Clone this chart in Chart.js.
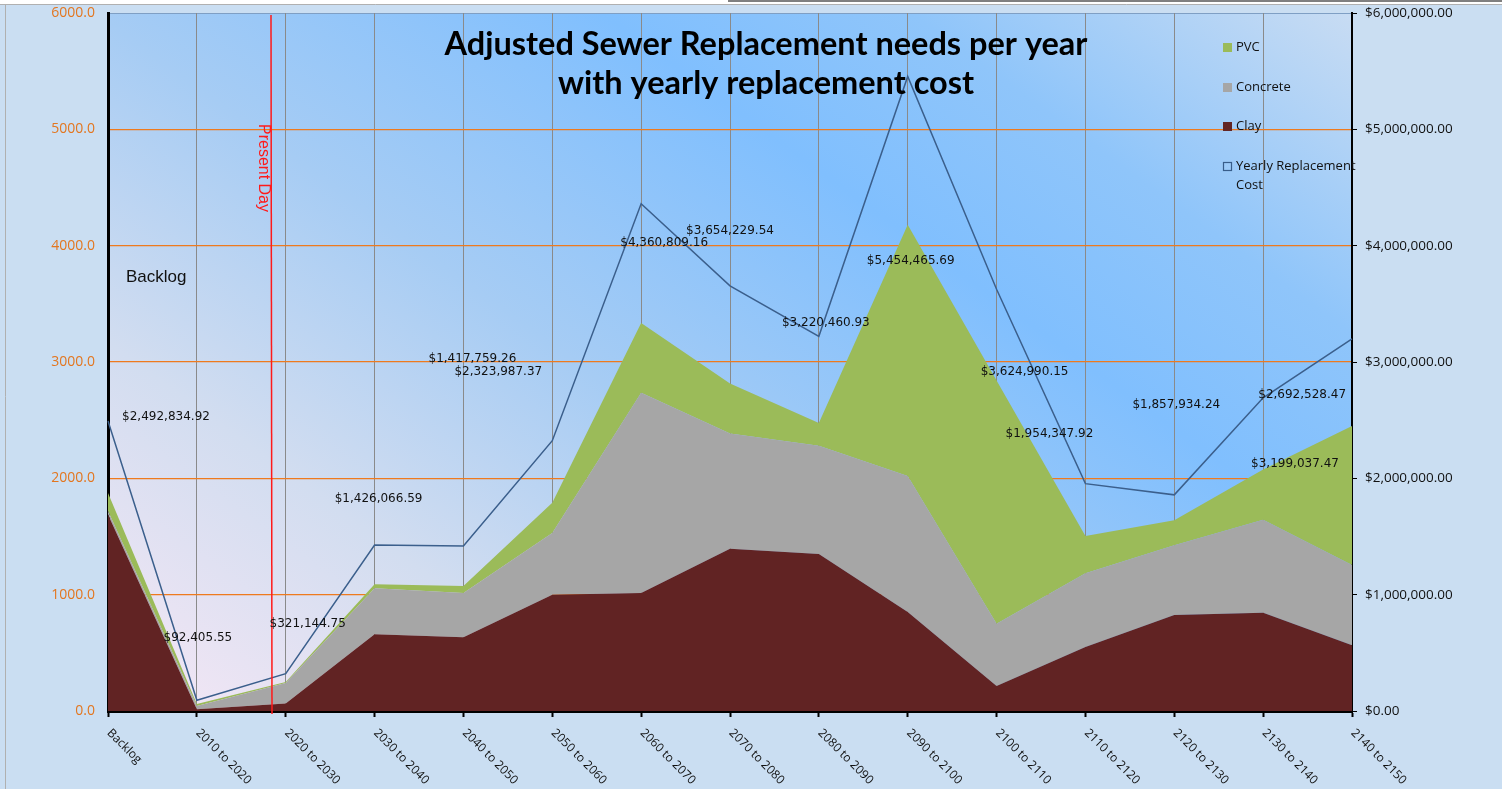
<!DOCTYPE html>
<html lang="en">
<head>
  <meta charset="UTF-8">
  <title>Adjusted Sewer Replacement needs per year</title>
  <script src="https://cdn.jsdelivr.net/npm/chart.js@4.4.1/dist/chart.umd.min.js"></script>
  <style>
    html, body { margin: 0; padding: 0; background: #cadef2; }
    #wrap { width: 1502px; height: 789px; position: relative; }
  </style>
</head>
<body>
  <div id="wrap"><canvas id="sewerChart"></canvas></div>

  <script>
    const categories = ['Backlog', '2010 to 2020', '2020 to 2030', '2030 to 2040', '2040 to 2050',
      '2050 to 2060', '2060 to 2070', '2070 to 2080', '2080 to 2090', '2090 to 2100',
      '2100 to 2110', '2110 to 2120', '2120 to 2130', '2130 to 2140', '2140 to 2150'];
    const clay     = [1690, 15, 65, 660, 635, 1000, 1015, 1395, 1350, 850, 215, 550, 825, 845, 565];
    const concrete = [30, 28, 175, 395, 380, 530, 1720, 990, 930, 1170, 535, 635, 600, 800, 690];
    const pvc      = [155, 17, 10, 35, 60, 260, 600, 430, 195, 2160, 2090, 320, 215, 430, 1195];
    const yearlyCost = [2492834.92, 92405.55, 321144.75, 1426066.59, 1417759.26, 2323987.37,
      4360809.16, 3654229.54, 3220460.93, 5454465.69, 3624990.15, 1954347.92, 1857934.24,
      2692528.47, 3199037.47];
    const leftTicks = [0, 1000, 2000, 3000, 4000, 5000, 6000];

    // where each cost label sits relative to its point (as placed in the original sheet)
    const labelOffsets = [[58, -4], [1, -62], [22, -50], [4, -46], [9, -187], [-54, -69], [23, 39],
      [0, -55], [7, -13], [3, 184], [28, 83], [-36, -50], [2, -90], [39, -3], [-57, 125]];

    const money = v => '$' + v.toLocaleString('en-US', { minimumFractionDigits: 2, maximumFractionDigits: 2 });

    const decorPlugin = {
      id: 'decor',
      beforeDraw(chart) {
        const { ctx, chartArea: a } = chart;
        ctx.save();
        ctx.fillStyle = '#ffffff';
        ctx.fillRect(0, 0, chart.width, 4);
        ctx.strokeStyle = '#b0b0b0';
        ctx.lineWidth = 1;
        ctx.beginPath(); ctx.moveTo(0, 4.5); ctx.lineTo(chart.width, 4.5); ctx.stroke();
        ctx.beginPath(); ctx.moveTo(5.5, 4); ctx.lineTo(5.5, chart.height); ctx.stroke();
        ctx.strokeStyle = '#000';
        ctx.beginPath(); ctx.moveTo(728, 1); ctx.lineTo(chart.width, 1); ctx.stroke();
        // plot fill: pink bottom-left, deep blue band, lighter again top-right
        const g = ctx.createLinearGradient(a.left, a.bottom, a.left + 762, a.bottom - 1048);
        g.addColorStop(0, '#f6e7f5');
        g.addColorStop(0.23, '#d2ddf0');
        g.addColorStop(0.43, '#a6ccf4');
        g.addColorStop(0.66, '#80bffe');
        g.addColorStop(0.8, '#8fc5fa');
        g.addColorStop(1, '#c8dcf3');
        ctx.fillStyle = g;
        ctx.fillRect(a.left, a.top, a.right - a.left, a.bottom - a.top);
        ctx.strokeStyle = '#7f9fc4';
        ctx.beginPath(); ctx.moveTo(a.left, a.top + 0.5); ctx.lineTo(a.right, a.top + 0.5); ctx.stroke();
        ctx.restore();
      },
      afterDatasetsDraw(chart) {
        const { ctx, chartArea: a } = chart;
        const xs = chart.scales.x, y1 = chart.scales.y1;
        ctx.save();

        // present day marker
        ctx.strokeStyle = '#ff1a1a';
        ctx.lineWidth = 1.5;
        ctx.beginPath(); ctx.moveTo(271, a.top + 2); ctx.lineTo(272, a.bottom + 3); ctx.stroke();
        ctx.save();
        ctx.translate(263, 168);
        ctx.rotate(Math.PI / 2);
        ctx.fillStyle = '#ff1a1a';
        ctx.font = '16px "Liberation Sans", Arial, sans-serif';
        ctx.textAlign = 'center';
        ctx.textBaseline = 'middle';
        ctx.fillText('Present Day', 0, 0);
        ctx.restore();

        ctx.fillStyle = '#111';
        ctx.font = '17px "Liberation Sans", Arial, sans-serif';
        ctx.textAlign = 'left';
        ctx.textBaseline = 'middle';
        ctx.fillText('Backlog', 126, 277);

        // cost labels
        ctx.font = '12px "DejaVu Sans", sans-serif';
        ctx.textAlign = 'center';
        ctx.fillStyle = '#111';
        yearlyCost.forEach((v, i) => {
          const px = xs.getPixelForValue(i), py = y1.getPixelForValue(v);
          ctx.fillText(money(v), px + labelOffsets[i][0], py + labelOffsets[i][1]);
        });

        // title
        ctx.font = 'bold 32.5px Lato, "Open Sans", sans-serif';
        ctx.fillStyle = '#000';
        ctx.fillText('Adjusted Sewer Replacement needs per year', 766, 45);
        ctx.fillText('with yearly replacement cost', 766, 84);

        // legend
        const items = [
          { text: ['PVC'], color: '#9bbb59', y: 47 },
          { text: ['Concrete'], color: '#a6a6a6', y: 87 },
          { text: ['Clay'], color: '#632523', y: 126 },
          { text: ['Yearly Replacement', 'Cost'], color: null, y: 166 }
        ];
        ctx.font = '13px "Open Sans", sans-serif';
        ctx.textAlign = 'left';
        items.forEach(it => {
          if (it.color) {
            ctx.fillStyle = it.color;
            ctx.fillRect(1223, it.y - 4, 9, 9);
          } else {
            ctx.strokeStyle = '#385d8a';
            ctx.lineWidth = 1.2;
            ctx.strokeRect(1223.5, it.y - 3.5, 8, 8);
          }
          ctx.fillStyle = '#111';
          it.text.forEach((t, k) => ctx.fillText(t, 1236, it.y + k * 19));
        });

        // slanted category labels
        ctx.font = '12px "Open Sans", sans-serif';
        ctx.fillStyle = '#111';
        categories.forEach((c, i) => {
          const px = xs.getPixelForValue(i);
          ctx.save();
          ctx.translate(px + 1, a.bottom + 20);
          ctx.rotate(Math.PI / 4);
          ctx.textAlign = 'left';
          ctx.textBaseline = 'middle';
          ctx.fillText(c, 0, 0);
          ctx.restore();
        });
        ctx.restore();
      }
    };

    const chart = new Chart(document.getElementById('sewerChart').getContext('2d'), {
      type: 'line',
      data: {
        labels: categories,
        datasets: [
          { label: 'Yearly Replacement Cost', data: yearlyCost, yAxisID: 'y1', borderColor: '#3b5f8c',
            borderWidth: 1.5, pointRadius: 0, fill: false, tension: 0, order: 0 },
          { label: 'Clay', data: clay, yAxisID: 'y', backgroundColor: '#612323', borderWidth: 0,
            pointRadius: 0, fill: 'origin', stack: 'pipes', order: 1 },
          { label: 'Concrete', data: concrete, yAxisID: 'y', backgroundColor: '#a6a6a6', borderWidth: 0,
            pointRadius: 0, fill: '-1', stack: 'pipes', order: 1 },
          { label: 'PVC', data: pvc, yAxisID: 'y', backgroundColor: '#9bbb59', borderWidth: 0,
            pointRadius: 0, fill: '-1', stack: 'pipes', order: 1 }
        ]
      },
      options: {
        responsive: true,
        maintainAspectRatio: false,
        animation: false,
        layout: { padding: { top: 13, left: 0, right: 0, bottom: 0 } },
        plugins: { legend: { display: false }, tooltip: { enabled: false } },
        scales: {
          x: {
            offset: false,
            ticks: { display: false },
            grid: { color: '#8a8a8a', lineWidth: 1, drawTicks: true, tickLength: 6, tickColor: '#000', tickWidth: 2 },
            border: { color: '#000', width: 3 },
            afterFit: s => { s.height = 78; s.paddingLeft = 0; s.paddingRight = 0; }
          },
          y: {
            position: 'left',
            stacked: true,
            min: 0, max: 6000,
            afterBuildTicks: s => { s.ticks = leftTicks.map(v => ({ value: v })); },
            ticks: { color: '#e3761f', padding: 13, font: { size: 14, family: '"Open Sans", sans-serif' },
              callback: v => Number(v).toFixed(1) },
            grid: { color: c => (c.tick && c.tick.value === 6000 ? 'rgba(0,0,0,0)' : '#ee7a1e'), lineWidth: 1.3, drawTicks: false },
            border: { color: '#000', width: 3 },
            afterFit: s => { s.width = 108; s.paddingTop = 0; s.paddingBottom = 0; }
          },
          y1: {
            position: 'right',
            min: 0, max: 6000000,
            ticks: { stepSize: 1000000, color: '#111', padding: 8, font: { size: 13.5, family: '"Open Sans", sans-serif' },
              callback: v => money(Number(v)) },
            grid: { drawOnChartArea: false, tickLength: 5, tickColor: '#000' },
            border: { color: '#000', width: 2 },
            afterFit: s => { s.width = 150; s.paddingTop = 0; s.paddingBottom = 0; }
          }
        }
      },
      plugins: [decorPlugin]
    });
  </script>
</body>
</html>
